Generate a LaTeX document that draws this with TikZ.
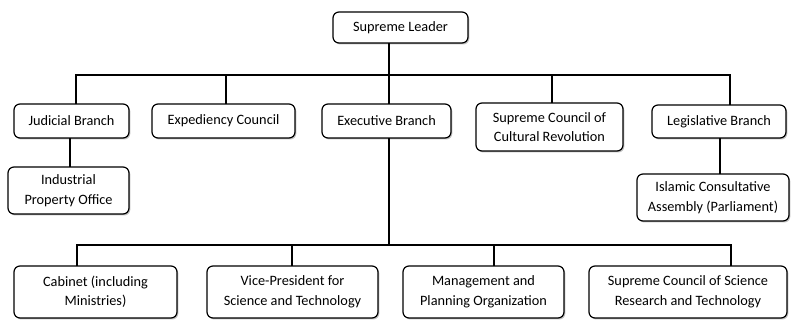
\documentclass[tikz,border=0pt]{standalone}
\usepackage{fontspec}
\setmainfont{Carlito}
\usetikzlibrary{shadows}
\begin{document}
\begin{tikzpicture}[x=1pt,y=-1pt,
  orgbox/.style={draw=black, line width=1.2pt, rounded corners=6pt, fill=white,
    inner sep=0pt, align=center,
    general shadow={fill=black!45, shadow xshift=1.3pt, shadow yshift=-1.5pt, opacity=0.55},
    font=\fontsize{14.3}{19.5}\selectfont},
  link/.style={line width=1.6pt, line cap=rect}]
\useasboundingbox (0,0) rectangle (793,320);

% boxes, placed by centre with explicit size
\node[orgbox, minimum width=135pt, minimum height=31pt] (leader) at (400.5,27.5) {Supreme Leader};

\node[orgbox, minimum width=115pt, minimum height=34pt] (judicial) at (71.5,121) {Judicial Branch};
\node[orgbox, minimum width=143pt, minimum height=34pt] (expediency) at (223.5,121) {Expediency Council};
\node[orgbox, minimum width=129pt, minimum height=34pt] (executive) at (386.5,121) {Executive Branch};
\node[orgbox, minimum width=147pt, minimum height=48pt] (cultural) at (549.5,127) {Supreme Council of\\Cultural Revolution};
\node[orgbox, minimum width=134pt, minimum height=33pt] (legislative) at (719,121.5) {Legislative Branch};

\node[orgbox, minimum width=121pt, minimum height=47pt] (industrial) at (68.5,190.5) {Industrial\\Property Office};
\node[orgbox, minimum width=152pt, minimum height=47pt] (parliament) at (713,197.5) {Islamic Consultative\\Assembly (Parliament)};

\node[orgbox, minimum width=163pt, minimum height=52pt] (cabinet) at (95.5,292) {Cabinet (including\\Ministries)};
\node[orgbox, minimum width=171pt, minimum height=52pt] (vicepres) at (292.5,292) {Vice-President for\\Science and Technology};
\node[orgbox, minimum width=161pt, minimum height=52pt] (planning) at (483.5,292) {Management and\\Planning Organization};
\node[orgbox, minimum width=198pt, minimum height=52pt] (science) at (688,292) {Supreme Council of Science\\Research and Technology};

% junction points on the two buses
\coordinate (tJ) at (76,75);
\coordinate (tE) at (226,75);
\coordinate (tX) at (389,75);
\coordinate (tC) at (552,75);
\coordinate (tL) at (730,75);
\coordinate (bC) at (77,245);
\coordinate (bV) at (292,245);
\coordinate (bX) at (389,245);
\coordinate (bP) at (494,245);
\coordinate (bS) at (731,245);

% upper level
\draw[link] (tX |- leader.south) -- (tX);
\draw[link] (tJ) -- (tL);
\draw[link] (tJ) -- (tJ |- judicial.north);
\draw[link] (tE) -- (tE |- expediency.north);
\draw[link] (tX) -- (tX |- executive.north);
\draw[link] (tC) -- (tC |- cultural.north);
\draw[link] (tL) -- (tL |- legislative.north);

% branch offices
\coordinate (jd) at (70,0);
\coordinate (ld) at (720,0);
\draw[link] (jd |- judicial.south) -- (jd |- industrial.north);
\draw[link] (ld |- legislative.south) -- (ld |- parliament.north);

% executive level
\draw[link] (bX |- executive.south) -- (bX);
\draw[link] (bC) -- (bS);
\draw[link] (bC) -- (bC |- cabinet.north);
\draw[link] (bV) -- (bV |- vicepres.north);
\draw[link] (bP) -- (bP |- planning.north);
\draw[link] (bS) -- (bS |- science.north);
\end{tikzpicture}
\end{document}
